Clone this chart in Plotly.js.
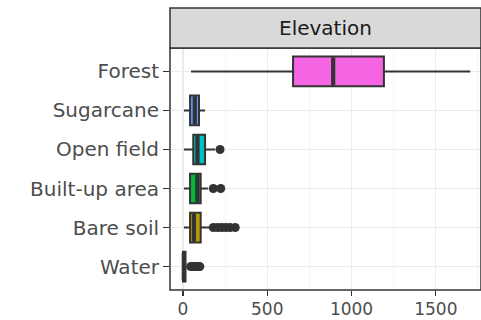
<!DOCTYPE html>
<html><head><meta charset="utf-8">
<script src="https://cdn.plot.ly/plotly-3.0.1.min.js"></script>
<style>html,body{margin:0;padding:0;background:#fff}#c{width:481px;height:320px}</style>
</head><body><div id="c"></div>
<script>
const categories = ['Water','Bare soil','Built-up area','Open field','Sugarcane','Forest'];
const q1 =         [0,   42,  42,  61,  42,  653];
const medians =    [5,   65,  85,  86,  70,  891];
const q3 =         [15,  105, 105, 131, 95,  1192];
const lowerFence = [0,   6,   6,   6,   6,   48];
const upperFence = [18,  160, 149, 190, 131, 1704];
const fillColors = ['#F8766D','#B79F00','#00BA38','#00BFC4','#619CFF','#F564E3'];
const outlierCats = ['Water','Water','Water','Water','Water',
  'Bare soil','Bare soil','Bare soil','Bare soil','Bare soil','Bare soil',
  'Built-up area','Built-up area','Open field'];
const outlierVals = [45,60,75,90,100, 180,205,230,255,280,310, 180,224, 220];
const xTicks = [0,500,1000,1500];
const stripTitle = 'Elevation';

const font = '"DejaVu Sans",sans-serif';
const traces = categories.map((c,i)=>({
  type:'box', orientation:'h', y:[c],
  q1:[q1[i]], median:[medians[i]], q3:[q3[i]],
  lowerfence:[lowerFence[i]], upperfence:[upperFence[i]],
  fillcolor:fillColors[i], line:{color:'#333333', width:2},
  whiskerwidth:0, width:0.76, boxpoints:false, showlegend:false, hoverinfo:'skip'
}));
// thicker median lines (ggplot fatten), drawn as zero-width boxes at the median
traces.push({type:'box', orientation:'h', y:categories,
  q1:medians, median:medians, q3:medians, lowerfence:medians, upperfence:medians,
  fillcolor:'rgba(0,0,0,0)', line:{color:'#333333', width:4.2},
  whiskerwidth:0, width:0.70, boxpoints:false, showlegend:false, hoverinfo:'skip'});
traces.push({type:'scatter', mode:'markers', x:outlierVals, y:outlierCats,
  marker:{color:'#333333', size:9}, showlegend:false, hoverinfo:'skip'});

const layout = {
  width:481, height:320,
  margin:{l:170, r:0, t:48, b:30},
  paper_bgcolor:'#fff', plot_bgcolor:'#fff',
  boxmode:'overlay',
  xaxis:{range:[-77,1768], tickvals:xTicks, ticktext:xTicks.map(String),
    showgrid:true, gridcolor:'#EBEBEB', gridwidth:1.2, zeroline:false,
    minor:{dtick:250, tick0:0, showgrid:true, gridcolor:'#F4F4F4', gridwidth:0.8},
    ticks:'outside', ticklen:5, tickcolor:'#333', tickwidth:1.3, ticklabelstandoff:-1,
    tickfont:{family:font, size:17, color:'#4D4D4D'}, showline:false, fixedrange:true},
  yaxis:{type:'category', categoryorder:'array', categoryarray:categories,
    range:[-0.6,5.6], showgrid:true, gridcolor:'#EBEBEB', gridwidth:1.2, zeroline:false,
    ticks:'outside', ticklen:6, tickcolor:'#333', tickwidth:1.3,
    tickfont:{family:font, size:20, color:'#4D4D4D'}, showline:false, fixedrange:true},
  shapes:[
    {type:'rect', xref:'paper', yref:'paper', x0:0, x1:1, y0:0, y1:1,
     line:{color:'#333', width:1.5}, fillcolor:'rgba(0,0,0,0)', layer:'above'},
    {type:'rect', xref:'paper', yref:'paper', x0:0, x1:1, y0:1, y1:1+40/242,
     line:{color:'#333', width:1.5}, fillcolor:'#D9D9D9'}
  ],
  annotations:[{text:stripTitle, xref:'paper', yref:'paper', x:0.5, y:1+20/242,
    xanchor:'center', yanchor:'middle', showarrow:false,
    font:{family:font, size:20, color:'#1A1A1A'}}]
};
Plotly.newPlot('c', traces, layout, {staticPlot:true, displayModeBar:false});
</script></body></html>
